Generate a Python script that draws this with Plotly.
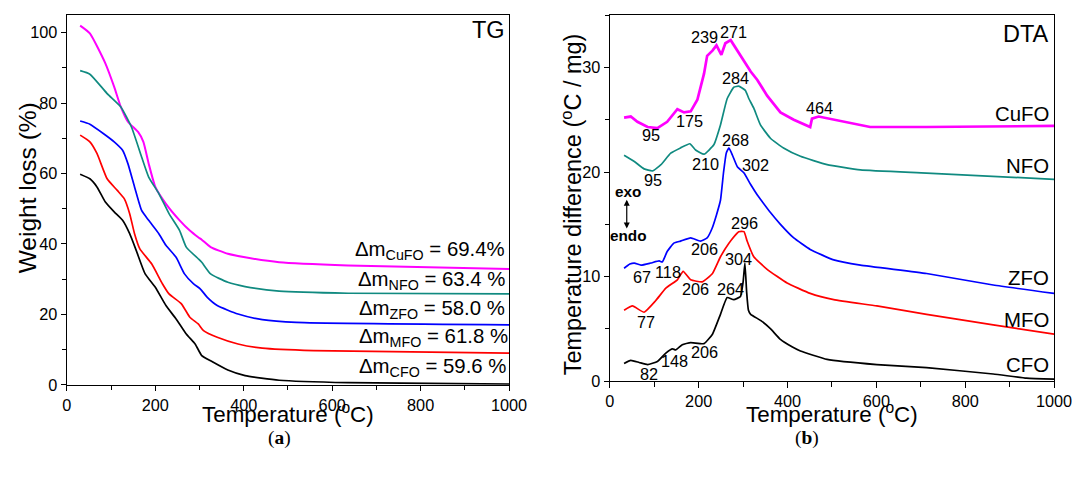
import plotly.graph_objects as go

# ---------------- TG data (Temperature °C, Weight %) ----------------
tg_cufo_T = [30, 52, 87, 107, 122, 138, 161, 173, 185, 200, 224, 255, 278, 297, 305, 325, 364, 403, 480, 636, 1000]
tg_cufo_W = [102, 99.8, 91.3, 84.6, 78.9, 74.7, 71.8, 69.0, 62.8, 56.2, 51.4, 46.7, 43.8, 41.9, 41.2, 39.1, 37.2, 36.2, 34.8, 33.9, 32.9]

tg_nfo_T = [30, 52, 91, 122, 146, 169, 185, 208, 231, 255, 270, 297, 305, 325, 364, 403, 480, 636, 1000]
tg_nfo_W = [89.2, 88.2, 82.7, 78.9, 73.2, 64.7, 59.0, 54.3, 48.6, 43.8, 39.1, 35.8, 34.8, 31.5, 29.1, 27.9, 26.6, 26.0, 25.8]

tg_zfo_T = [30, 52, 83, 107, 126, 138, 153, 169, 185, 208, 224, 247, 266, 286, 302, 317, 340, 387, 442, 519, 1000]
tg_zfo_W = [74.9, 74.0, 71.3, 69.0, 66.6, 62.8, 56.2, 49.5, 46.7, 42.9, 39.6, 36.2, 31.5, 28.7, 27.2, 24.9, 22.5, 20.1, 18.5, 17.7, 17.0]

tg_mfo_T = [30, 52, 68, 91, 114, 130, 142, 153, 165, 192, 216, 231, 259, 278, 297, 309, 340, 387, 442, 558, 1000]
tg_mfo_W = [70.9, 69.0, 65.7, 58.5, 55.2, 52.8, 48.6, 42.9, 38.6, 34.3, 28.7, 25.8, 23.0, 19.2, 17.3, 15.4, 13.5, 11.6, 10.4, 9.7, 9.0]

tg_cfo_T = [30, 52, 68, 87, 107, 126, 142, 157, 177, 200, 224, 247, 270, 290, 305, 325, 364, 403, 480, 636, 1000]
tg_cfo_W = [59.8, 58.5, 56.2, 51.9, 49.1, 46.7, 42.9, 38.1, 31.5, 27.7, 22.5, 18.7, 14.4, 11.6, 8.3, 6.8, 4.2, 2.6, 1.3, 0.6, 0.2]

tg_labels = ["Δm<sub>CuFO</sub> = 69.4%", "Δm<sub>NFO</sub> = 63.4 %", "Δm<sub>ZFO</sub> = 58.0 %",
             "Δm<sub>MFO</sub> = 61.8 %", "Δm<sub>CFO</sub> = 59.6 %"]

# ---------------- DTA data (Temperature °C, ΔT °C/mg) ----------------
dta_cufo_T = [32, 47, 62, 85, 107, 129, 152, 167, 182, 197, 212, 219, 231, 240, 251, 260, 272, 287, 302, 317,
              332, 354, 384, 414, 451, 455, 470, 504, 564, 586, 713, 1000]
dta_cufo_V = [25.2, 25.3, 24.8, 24.3, 24.2, 24.8, 26.0, 25.7, 25.8, 26.9, 29.4, 31.1, 31.6, 32.1, 31.2, 32.3,
              32.6, 31.6, 30.6, 29.6, 28.8, 27.3, 25.7, 25.0, 24.3, 25.1, 25.3, 25.0, 24.5, 24.3, 24.3, 24.4]

dta_nfo_T = [32, 55, 77, 96, 115, 137, 159, 180, 193, 212, 234, 249, 264, 279, 290, 305, 313, 324, 339, 362,
             391, 429, 489, 564, 713, 1000]
dta_nfo_V = [21.6, 21.0, 20.3, 20.1, 20.7, 21.8, 22.3, 22.7, 22.1, 21.7, 22.6, 24.5, 27.0, 28.1, 28.2, 27.8,
             27.0, 26.1, 24.5, 23.2, 22.3, 21.5, 20.7, 20.2, 19.9, 19.3]

dta_zfo_T = [32, 45, 55, 70, 92, 111, 118, 129, 144, 159, 182, 204, 219, 230, 240, 249, 256, 262, 268, 276,
             287, 302, 317, 332, 339, 362, 384, 414, 451, 504, 564, 713, 863, 1000]
dta_zfo_V = [10.8, 11.2, 11.3, 11.1, 11.3, 11.5, 11.4, 12.4, 13.2, 13.4, 13.7, 13.4, 13.7, 14.6, 15.9, 17.3,
             20.0, 21.8, 22.3, 21.6, 20.5, 19.9, 18.8, 17.8, 17.4, 16.1, 15.0, 13.7, 12.6, 11.6, 11.1, 10.3, 9.2, 8.4]

dta_mfo_T = [32, 51, 77, 103, 126, 152, 165, 182, 208, 231, 249, 268, 290, 302, 309, 324, 354, 399, 451, 504,
             601, 713, 863, 1000]
dta_mfo_V = [6.8, 7.2, 6.6, 7.7, 8.9, 9.7, 10.5, 9.7, 9.5, 10.3, 11.9, 13.2, 14.3, 14.3, 13.4, 11.9, 10.7, 9.4,
             8.4, 7.8, 7.2, 6.4, 5.4, 4.5]

dta_cfo_T = [32, 47, 66, 85, 107, 126, 141, 148, 163, 182, 212, 231, 249, 264, 279, 294, 300, 304, 308, 312,
             317, 340, 362, 384, 410, 429, 489, 601, 713, 863, 938, 1000]
dta_cfo_V = [1.7, 2.0, 1.8, 1.6, 1.9, 2.7, 3.1, 3.0, 3.5, 3.7, 3.6, 4.5, 6.4, 8.0, 7.8, 8.1, 9.5, 11.3, 8.5,
             6.8, 6.4, 5.8, 5.0, 4.0, 3.3, 2.9, 2.1, 1.6, 1.3, 0.7, 0.3, 0.2]

series_names = ["CuFO", "NFO", "ZFO", "MFO", "CFO"]
peak_texts = ["239", "271", "284", "464", "175", "95", "268", "210", "302", "95",
              "296", "206", "304", "67", "118", "206", "264", "77", "148", "206", "82"]
peak_T = [214, 279, 283, 472, 180, 92, 283, 216, 328, 98, 302, 212, 290, 73, 131, 193, 272, 81, 145, 212, 88]
peak_V = [32.9, 33.4, 29.0, 26.1, 24.9, 23.5, 23.1, 20.8, 20.7, 19.2, 15.1, 12.6, 11.7, 10.0, 10.4, 8.8, 8.8,
          5.7, 1.9, 2.8, 0.7]

colors = ["#FF00FF", "#108A80", "#0000FF", "#FF0000", "#000000"]
FONT = "Liberation Sans, Arial, sans-serif"

# page is drawn slightly reduced by the viewer; compensate with a uniform size factor
K = 1.02
W0, H0 = 1072, 477
W, H = round(W0 * K), round(H0 * K)


def fs(v):
    return round(v * K, 1)


fig = go.Figure()

tg_sets = [(tg_cufo_T, tg_cufo_W), (tg_nfo_T, tg_nfo_W), (tg_zfo_T, tg_zfo_W),
           (tg_mfo_T, tg_mfo_W), (tg_cfo_T, tg_cfo_W)]
for (t, w), c, n in zip(tg_sets, colors, series_names):
    fig.add_trace(go.Scatter(x=t, y=w, mode="lines", name=n, xaxis="x", yaxis="y",
                             line=dict(color=c, width=fs(2 if n == "CuFO" else 1.7), shape="spline", smoothing=0.5)))

dta_sets = [(dta_cufo_T, dta_cufo_V), (dta_nfo_T, dta_nfo_V), (dta_zfo_T, dta_zfo_V),
            (dta_mfo_T, dta_mfo_V), (dta_cfo_T, dta_cfo_V)]
for (t, v), c, n in zip(dta_sets, colors, series_names):
    if n == "CuFO":
        ln = dict(color=c, width=fs(2.6))
    else:
        ln = dict(color=c, width=fs(1.7), shape="spline", smoothing=0.4)
    fig.add_trace(go.Scatter(x=t, y=v, mode="lines", name=n, xaxis="x2", yaxis="y2", line=ln))

axis_common = dict(showline=True, linecolor="black", linewidth=fs(1.3), mirror=True, ticks="outside",
                   ticklen=fs(5), tickwidth=fs(1.2), tickcolor="black", showgrid=False, zeroline=False,
                   tickfont=dict(family=FONT, size=fs(16), color="black"))
minor_common = dict(ticks="outside", ticklen=fs(4), tickwidth=fs(1.1), tickcolor="black")

fig.update_layout(
    width=W, height=H, margin=dict(l=0, r=0, t=0, b=0),
    paper_bgcolor="white", plot_bgcolor="white", showlegend=False,
    xaxis=dict(domain=[62 / W0, 505 / W0], range=[0, 1000], dtick=200,
               minor=dict(dtick=100, **minor_common), anchor="y", **axis_common),
    yaxis=dict(domain=[1 - 384 / H0, 1 - 15 / H0], range=[0, 105], dtick=20,
               minor=dict(dtick=10, **minor_common), anchor="x", **axis_common),
    xaxis2=dict(domain=[606 / W0, 1051 / W0], range=[0, 1000], dtick=200,
                minor=dict(dtick=100, **minor_common), anchor="y2", **axis_common),
    yaxis2=dict(domain=[1 - 380.5 / H0, 1 - 15 / H0], range=[0, 35], dtick=10,
                minor=dict(dtick=5, **minor_common), anchor="x2", **axis_common),
)

ann = []
# panel titles
ann.append(dict(xref="x", yref="y", x=996, y=100.8, text="TG", showarrow=False, xanchor="right",
                yanchor="middle", font=dict(family=FONT, size=fs(23), color="black")))
ann.append(dict(xref="x2", yref="y2", x=994, y=33.2, text="DTA", showarrow=False, xanchor="right",
                yanchor="middle", font=dict(family=FONT, size=fs(23), color="black")))
# TG mass-loss labels
tg_label_y = [38.1, 29.6, 21.5, 13.3, 4.9]
tg_label_shift = [0, 0, 0, 3, 1]
for txt, sh, ly in zip(tg_labels, tg_label_shift, tg_label_y):
    ann.append(dict(xref="x", yref="y", x=996, y=ly, xshift=sh, text=txt, showarrow=False, xanchor="right",
                    yanchor="middle", font=dict(family=FONT, size=fs(20), color="black")))
# DTA series labels
dta_label_y = [25.5, 20.6, 9.9, 5.9, 1.6]
for n, ly in zip(series_names, dta_label_y):
    ann.append(dict(xref="x2", yref="y2", x=994, y=ly, text=n, showarrow=False, xanchor="right",
                    yanchor="middle", font=dict(family=FONT, size=fs(20), color="black")))
# peak labels
for txt, px, py in zip(peak_texts, peak_T, peak_V):
    ann.append(dict(xref="x2", yref="y2", x=px, y=py, text=txt, showarrow=False, xanchor="center",
                    yanchor="middle", font=dict(family=FONT, size=fs(16), color="black")))
# exo / endo
ann.append(dict(xref="x2", yref="y2", x=40, y=18.1, text="<b>exo</b>", showarrow=False,
                font=dict(family=FONT, size=fs(15), color="black")))
ann.append(dict(xref="x2", yref="y2", x=43, y=13.9, text="<b>endo</b>", showarrow=False,
                font=dict(family=FONT, size=fs(15), color="black")))
ann.append(dict(xref="x2", yref="y2", x=38, y=14.6, ax=38, ay=17.5, axref="x2", ayref="y2", text="",
                showarrow=True, arrowhead=2, arrowside="end+start", arrowsize=1, arrowwidth=fs(1.2),
                arrowcolor="black"))
# axis titles
ann.append(dict(xref="paper", yref="paper", x=283.5 / W0, y=1 - 412 / H0, text="Temperature (<sup>o</sup>C)",
                showarrow=False, xanchor="center", yanchor="middle", font=dict(family=FONT, size=fs(22), color="black")))
ann.append(dict(xref="paper", yref="paper", x=828.5 / W0, y=1 - 412 / H0, text="Temperature (<sup>o</sup>C)",
                showarrow=False, xanchor="center", yanchor="middle", font=dict(family=FONT, size=fs(22), color="black")))
ann.append(dict(xref="paper", yref="paper", x=22 / W0, y=1 - 187 / H0, text="Weight loss (%)", textangle=-90,
                showarrow=False, xanchor="center", yanchor="middle", font=dict(family=FONT, size=fs(24), color="black")))
ann.append(dict(xref="paper", yref="paper", x=568 / W0, y=1 - 204 / H0,
                text="Temperature difference (<sup>o</sup>C / mg)", textangle=-90,
                showarrow=False, xanchor="center", yanchor="middle", font=dict(family=FONT, size=fs(23), color="black")))
# panel letters
ann.append(dict(xref="paper", yref="paper", x=275 / W0, y=1 - 437 / H0, text="(<b>a</b>)", showarrow=False,
                xanchor="center", yanchor="middle", font=dict(family="Liberation Serif, serif", size=fs(19), color="black")))
ann.append(dict(xref="paper", yref="paper", x=803 / W0, y=1 - 437 / H0, text="(<b>b</b>)", showarrow=False,
                xanchor="center", yanchor="middle", font=dict(family="Liberation Serif, serif", size=fs(19), color="black")))

fig.update_layout(annotations=ann)
fig.write_html("out.html")
